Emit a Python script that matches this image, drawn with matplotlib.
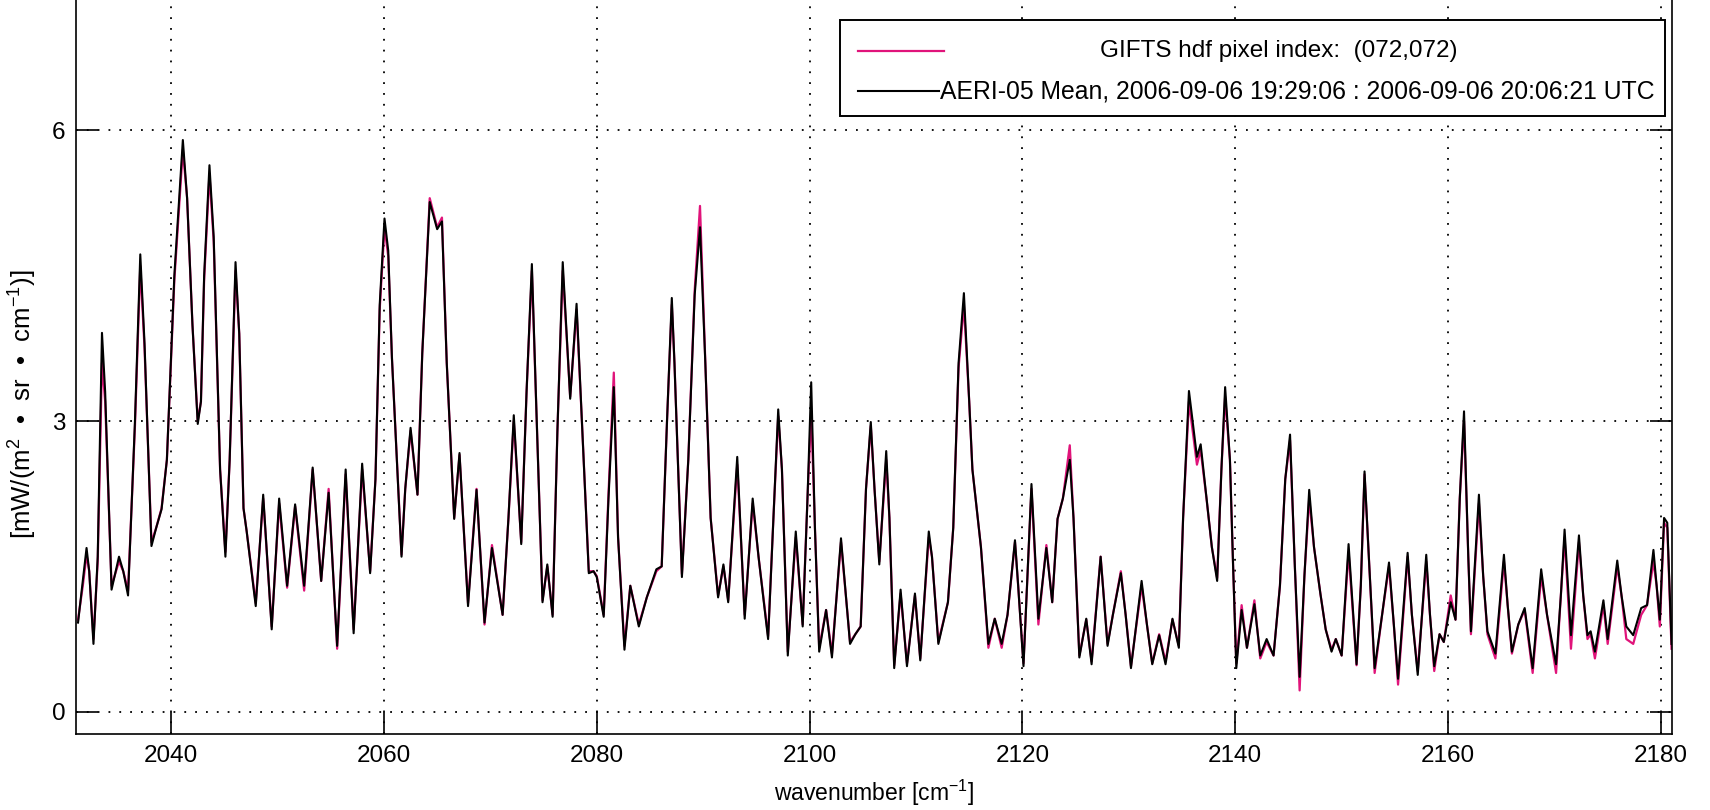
import matplotlib
matplotlib.use('Agg')
import matplotlib.pyplot as plt
from matplotlib.patches import Rectangle

plt.rcParams['font.family'] = ['Liberation Sans', 'DejaVu Sans']
plt.rcParams['mathtext.fontset'] = 'custom'
plt.rcParams['mathtext.rm'] = 'Liberation Sans'

# wavenumber of each point [cm-1]
wn = [2031.25, 2031.7, 2032.05, 2032.3, 2032.7, 2033.1, 2033.5, 2033.8, 2034.4, 2035.1,
      2035.5, 2035.95, 2036.6, 2037.1, 2037.5, 2038.15, 2038.6, 2039.1, 2039.6, 2040.3,
      2041.1, 2041.5, 2042.0, 2042.5, 2042.8, 2043.1, 2043.6, 2044.0, 2044.6, 2045.1,
      2045.5, 2046.05, 2046.4, 2046.8, 2047.1, 2047.95, 2048.65, 2049.45, 2050.15, 2050.9,
      2051.65, 2052.5, 2053.3, 2054.1, 2054.8, 2055.6, 2056.4, 2057.15, 2057.95, 2058.7,
      2059.2, 2059.6, 2060.05, 2060.4, 2060.75, 2061.65, 2062.0, 2062.5, 2063.15, 2063.6,
      2064.3, 2065.0, 2065.45, 2065.9, 2066.6, 2067.1, 2067.9, 2068.7, 2069.45, 2070.15,
      2071.15, 2071.7, 2072.2, 2072.9, 2073.4, 2073.9, 2074.3, 2074.9, 2075.35, 2075.85,
      2076.3, 2076.8, 2077.5, 2078.1, 2078.6, 2079.25, 2079.7, 2080.0, 2080.65, 2081.1,
      2081.6, 2082.0, 2082.6, 2083.15, 2083.95, 2084.7, 2085.6, 2086.1, 2086.6, 2087.05,
      2087.3, 2088.0, 2088.6, 2089.2, 2089.7, 2090.2, 2090.7, 2091.4, 2091.9, 2092.35,
      2093.2, 2093.9, 2094.65, 2095.2, 2096.1, 2096.6, 2097.05, 2097.4, 2097.95, 2098.7,
      2099.35, 2099.8, 2100.15, 2100.5, 2100.9, 2101.55, 2102.1, 2102.95, 2103.8, 2104.3,
      2104.8, 2105.3, 2105.75, 2106.1, 2106.55, 2107.2, 2107.5, 2107.95, 2108.55, 2109.15,
      2109.9, 2110.4, 2111.2, 2111.5, 2112.1, 2113.0, 2113.5, 2114.0, 2114.5, 2115.0,
      2115.3, 2115.7, 2116.1, 2116.8, 2117.4, 2118.05, 2118.6, 2119.3, 2119.6, 2120.1,
      2120.85, 2121.5, 2122.25, 2122.8, 2123.3, 2123.8, 2124.45, 2124.8, 2125.35, 2126.0,
      2126.5, 2127.35, 2128.0, 2128.5, 2129.25, 2129.7, 2130.2, 2131.2, 2131.7, 2132.2,
      2132.85, 2133.45, 2134.1, 2134.7, 2135.1, 2135.65, 2136.4, 2136.75, 2137.3, 2137.8,
      2138.3, 2138.7, 2139.05, 2139.5, 2139.8, 2140.1, 2140.6, 2141.1, 2141.8, 2142.35,
      2142.95, 2143.6, 2144.2, 2144.7, 2145.15, 2145.6, 2146.05, 2146.5, 2146.95, 2147.4,
      2148.0, 2148.5, 2149.05, 2149.45, 2150.0, 2150.65, 2151.4, 2151.8, 2152.15, 2152.6,
      2153.1, 2153.8, 2154.45, 2154.9, 2155.3, 2156.2, 2156.6, 2157.15, 2157.95, 2158.3,
      2158.7, 2159.2, 2159.6, 2160.25, 2160.7, 2161.1, 2161.5, 2161.9, 2162.15, 2162.9,
      2163.3, 2163.7, 2164.45, 2165.25, 2165.6, 2166.0, 2166.6, 2167.2, 2167.95, 2168.75,
      2169.3, 2170.15, 2170.6, 2170.95, 2171.55, 2172.3, 2172.7, 2173.1, 2173.4, 2173.8,
      2174.6, 2175.0, 2175.9, 2176.3, 2176.75, 2177.4, 2178.15, 2178.7, 2179.3, 2179.6,
      2179.9, 2180.3, 2180.6, 2181.0]

# AERI-05 mean radiance
aeri = [0.92, 1.35, 1.69, 1.45, 0.70, 1.60, 3.91, 3.30, 1.26, 1.60,
        1.45, 1.20, 3.00, 4.72, 3.80, 1.71, 1.90, 2.09, 2.60, 4.50,
        5.90, 5.30, 4.00, 2.97, 3.20, 4.50, 5.64, 4.90, 2.50, 1.60,
        2.60, 4.64, 3.90, 2.10, 1.86, 1.09, 2.24, 0.85, 2.20, 1.30,
        2.14, 1.30, 2.52, 1.35, 2.26, 0.68, 2.50, 0.81, 2.56, 1.43,
        2.40, 4.20, 5.09, 4.76, 3.65, 1.60, 2.30, 2.93, 2.24, 3.70,
        5.26, 4.98, 5.06, 3.60, 1.99, 2.67, 1.09, 2.29, 0.92, 1.69,
        1.00, 2.00, 3.06, 1.73, 3.30, 4.62, 3.20, 1.13, 1.52, 0.98,
        2.90, 4.64, 3.23, 4.21, 3.00, 1.43, 1.45, 1.39, 0.98, 2.20,
        3.35, 1.80, 0.64, 1.30, 0.88, 1.18, 1.47, 1.50, 3.00, 4.27,
        3.60, 1.39, 2.60, 4.30, 5.00, 3.60, 2.00, 1.18, 1.52, 1.13,
        2.63, 0.96, 2.20, 1.60, 0.75, 2.00, 3.12, 2.50, 0.58, 1.86,
        0.88, 2.20, 3.40, 1.90, 0.62, 1.05, 0.56, 1.79, 0.70, 0.80,
        0.88, 2.30, 2.99, 2.30, 1.52, 2.69, 2.00, 0.45, 1.26, 0.47,
        1.22, 0.53, 1.86, 1.60, 0.70, 1.13, 1.90, 3.60, 4.32, 3.20,
        2.50, 2.10, 1.70, 0.70, 0.96, 0.70, 1.00, 1.77, 1.30, 0.47,
        2.35, 0.96, 1.69, 1.13, 1.99, 2.20, 2.60, 2.00, 0.56, 0.96,
        0.49, 1.60, 0.68, 1.00, 1.43, 1.00, 0.45, 1.35, 0.90, 0.49,
        0.79, 0.49, 0.96, 0.66, 2.00, 3.31, 2.63, 2.76, 2.20, 1.70,
        1.35, 2.50, 3.35, 2.60, 1.50, 0.45, 1.05, 0.66, 1.11, 0.58,
        0.75, 0.58, 1.30, 2.40, 2.86, 1.50, 0.36, 1.40, 2.29, 1.70,
        1.22, 0.85, 0.62, 0.75, 0.58, 1.73, 0.49, 1.30, 2.48, 1.50,
        0.45, 1.00, 1.54, 0.90, 0.34, 1.64, 1.00, 0.38, 1.62, 1.00,
        0.47, 0.80, 0.72, 1.13, 0.95, 2.20, 3.10, 1.60, 0.83, 2.24,
        1.40, 0.83, 0.60, 1.62, 1.10, 0.62, 0.90, 1.07, 0.45, 1.47,
        1.00, 0.49, 1.20, 1.88, 0.79, 1.82, 1.20, 0.79, 0.83, 0.62,
        1.15, 0.75, 1.56, 1.20, 0.88, 0.79, 1.07, 1.10, 1.67, 1.30,
        0.95, 2.00, 1.95, 0.70]

# GIFTS pixel (072,072) radiance
gifts = [0.95, 1.30, 1.62, 1.45, 0.75, 1.55, 3.60, 3.20, 1.30, 1.55,
         1.45, 1.25, 2.95, 4.60, 3.75, 1.75, 1.90, 2.10, 2.60, 4.45,
         5.80, 5.30, 4.00, 3.00, 3.20, 4.45, 5.55, 4.85, 2.50, 1.65,
         2.60, 4.55, 3.90, 2.10, 1.86, 1.12, 2.20, 0.88, 2.15, 1.28,
         2.12, 1.25, 2.50, 1.35, 2.30, 0.65, 2.45, 0.85, 2.50, 1.45,
         2.40, 4.15, 5.00, 4.70, 3.65, 1.62, 2.30, 2.90, 2.24, 3.70,
         5.30, 5.00, 5.10, 3.60, 2.00, 2.65, 1.12, 2.30, 0.90, 1.72,
         1.00, 2.00, 3.00, 1.75, 3.30, 4.55, 3.20, 1.15, 1.50, 1.00,
         2.90, 4.55, 3.25, 4.15, 3.00, 1.45, 1.45, 1.40, 1.00, 2.25,
         3.50, 1.80, 0.68, 1.30, 0.90, 1.18, 1.45, 1.50, 3.00, 4.20,
         3.60, 1.42, 2.60, 4.35, 5.22, 3.60, 2.00, 1.20, 1.50, 1.15,
         2.55, 1.00, 2.15, 1.60, 0.78, 2.00, 3.05, 2.50, 0.62, 1.80,
         0.90, 2.20, 3.10, 1.90, 0.66, 1.05, 0.60, 1.75, 0.72, 0.80,
         0.88, 2.30, 2.95, 2.30, 1.55, 2.60, 2.00, 0.48, 1.22, 0.50,
         1.20, 0.55, 1.80, 1.60, 0.72, 1.13, 1.90, 3.55, 4.20, 3.20,
         2.50, 2.10, 1.70, 0.66, 0.96, 0.66, 1.00, 1.75, 1.30, 0.50,
         2.30, 0.90, 1.72, 1.13, 1.99, 2.20, 2.75, 2.00, 0.58, 0.95,
         0.52, 1.60, 0.70, 1.00, 1.45, 1.00, 0.47, 1.30, 0.90, 0.50,
         0.80, 0.52, 0.95, 0.68, 2.00, 3.20, 2.55, 2.70, 2.20, 1.70,
         1.38, 2.50, 3.25, 2.60, 1.50, 0.50, 1.10, 0.66, 1.15, 0.55,
         0.72, 0.58, 1.30, 2.40, 2.80, 1.50, 0.22, 1.40, 2.20, 1.70,
         1.22, 0.85, 0.64, 0.75, 0.58, 1.65, 0.48, 1.30, 2.45, 1.50,
         0.40, 1.00, 1.50, 0.90, 0.28, 1.60, 1.00, 0.42, 1.55, 1.00,
         0.42, 0.80, 0.72, 1.20, 0.95, 2.20, 3.00, 1.60, 0.80, 2.15,
         1.40, 0.80, 0.55, 1.55, 1.10, 0.60, 0.90, 1.05, 0.40, 1.40,
         1.00, 0.40, 1.20, 1.80, 0.65, 1.75, 1.20, 0.75, 0.80, 0.55,
         1.10, 0.70, 1.50, 1.20, 0.75, 0.70, 1.00, 1.10, 1.55, 1.30,
         0.88, 1.95, 1.90, 0.65]

xticks = [2040, 2060, 2080, 2100, 2120, 2140, 2160, 2180]
yticks = [0, 3, 6]

gifts_label = 'GIFTS hdf pixel index:  (072,072)'
aeri_label = 'AERI-05 Mean, 2006-09-06 19:29:06 : 2006-09-06 20:06:21 UTC'
pink = '#e0147a'
fs = 17.5

fig = plt.figure(figsize=(17.1, 8.1), dpi=100)
ax = fig.add_axes([0.0447, 0.0938, 0.9328, 0.9367])

ax.plot(wn, gifts, color=pink, lw=1.6)
ax.plot(wn, aeri, color='k', lw=1.5)

ax.set_xlim(2031.1, 2181.0)
ax.set_ylim(-0.23, 7.6)
ax.set_xticks(xticks)
ax.set_yticks(yticks)
ax.tick_params(direction='in', length=16, width=1.2, labelsize=fs,
               top=True, right=True)
ax.tick_params(axis='x', pad=8)
ax.tick_params(axis='y', pad=8)
ax.grid(True, color='k', linestyle=(0, (1, 5)), linewidth=1.3)
for s in ax.spines.values():
    s.set_linewidth(1.2)

ax.set_xlabel('wavenumber [cm$^{-1}$]', fontsize=16.5)
ax.xaxis.set_label_coords(0.5, -0.058)
ax.set_ylabel('[mW/(m$^{2}$  \u2022  sr  \u2022  cm$^{-1}$)]', fontsize=18.5)
ax.yaxis.set_label_coords(-0.024, 0.435)

# legend box drawn by hand (MATLAB style, first entry centred)
tr = ax.transAxes
ax.add_patch(Rectangle((0.4786, 0.8151), 0.5174, 0.1265, transform=tr,
                       facecolor='white', edgecolor='k', lw=1.4, zorder=5))
ax.plot([0.490, 0.544], [0.9005, 0.9005], color=pink, lw=1.6, transform=tr, zorder=6)
ax.plot([0.490, 0.541], [0.8475, 0.8475], color='k', lw=1.5, transform=tr, zorder=6)
ax.text(0.754, 0.9005, gifts_label, transform=tr, ha='center', va='center',
        fontsize=fs, zorder=6)
ax.text(0.5414, 0.8475, aeri_label, transform=tr, ha='left', va='center',
        fontsize=17.8, zorder=6)

fig.savefig('out.png', dpi=100)
